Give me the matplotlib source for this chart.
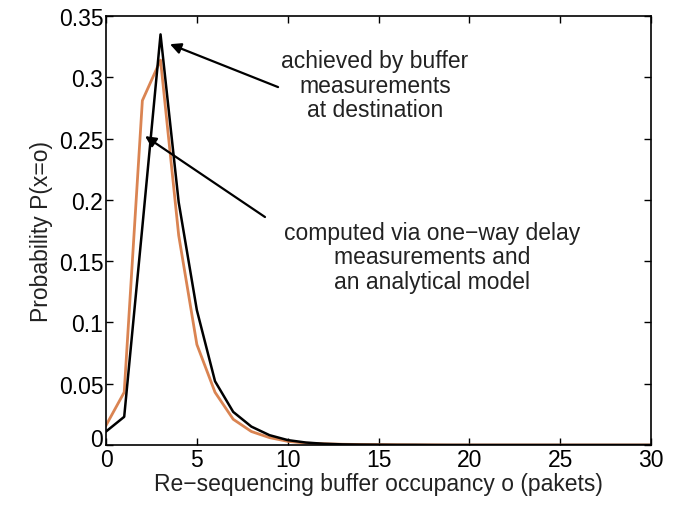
import matplotlib
matplotlib.use("Agg")
import matplotlib.pyplot as plt
import matplotlib.transforms as mtransforms

# Data
occupancy = list(range(0, 31))
measured = [0.011, 0.023, 0.178, 0.335, 0.198, 0.110, 0.052, 0.027, 0.015, 0.008,
            0.004, 0.002, 0.001, 0.0005, 0.0003, 0.0002, 0.0001, 0.0001, 0, 0,
            0, 0, 0, 0, 0, 0, 0, 0, 0, 0, 0]
computed = [0.016, 0.043, 0.281, 0.314, 0.171, 0.082, 0.043, 0.021, 0.011, 0.006,
            0.003, 0.0015, 0.001, 0.0006, 0.0004, 0.0003, 0.0002, 0.0001, 0.0001, 0,
            0, 0, 0, 0, 0, 0, 0, 0, 0, 0, 0]
xticks = [0, 5, 10, 15, 20, 25, 30]
yticks = [0, 0.05, 0.1, 0.15, 0.2, 0.25, 0.3, 0.35]
yticklabels = ["0", "0.05", "0.1", "0.15", "0.2", "0.25", "0.3", "0.35"]

plt.rcParams['font.family'] = ['Liberation Sans', 'DejaVu Sans']
FS = 16.5

fig = plt.figure(figsize=(6.81, 5.06), dpi=100)
ax = fig.add_axes([0.1557, 0.1186, 0.8003, 0.8478])

ax.plot(occupancy, computed, color='#DA8452', lw=2.0, zorder=2)
ax.plot(occupancy, measured, color='black', lw=1.8, zorder=3)

ax.set_xlim(0, 30)
ax.set_ylim(0, 0.35)
ax.set_xticks(xticks)
ax.set_xticklabels([str(t) for t in xticks])
ax.set_yticks(yticks)
ax.set_yticklabels(yticklabels)
ax.tick_params(direction='in', top=True, right=True, labelsize=FS, length=5, width=1,
               pad=2, colors='black')
for s in ax.spines.values():
    s.set_linewidth(1.2)

# lift the y "0" label slightly so it does not collide with the x "0" label
ylab0 = ax.get_yticklabels()[0]
ylab0.set_transform(ylab0.get_transform() +
                    mtransforms.ScaledTranslation(0, 6 / 72, fig.dpi_scale_trans))

ax.set_xlabel('Re\u2212sequencing buffer occupancy o (pakets)', fontsize=FS, labelpad=1,
              color='#222222')
ax.set_ylabel('Probability P(x=o)', fontsize=FS, labelpad=4, color='#222222')

arrow = dict(arrowstyle='-|>', color='black', lw=1.6, mutation_scale=16, shrinkA=0, shrinkB=0)
ax.annotate('', xy=(3.52, 0.327), xytext=(9.47, 0.292), arrowprops=arrow)
ax.annotate('', xy=(2.15, 0.252), xytext=(8.75, 0.186), arrowprops=arrow)

ax.text(14.8, 0.2937, 'achieved by buffer\nmeasurements\nat destination',
        ha='center', va='center', fontsize=FS, linespacing=1.1, color='#222222')
ax.text(17.94, 0.1534, 'computed via one\u2212way delay\nmeasurements and\nan analytical model',
        ha='center', va='center', fontsize=FS, linespacing=1.1, color='#222222')

fig.savefig('out.png', dpi=100)
